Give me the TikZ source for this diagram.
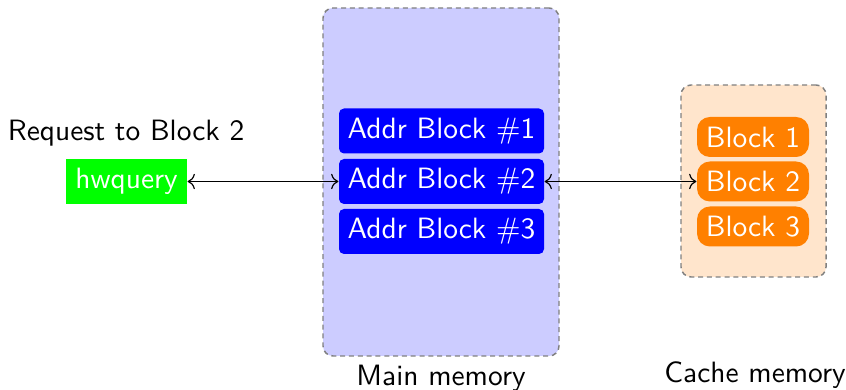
\documentclass[tikz,border=0pt]{standalone}
\usetikzlibrary{arrows.meta}
\begin{document}
\begin{tikzpicture}[x=0.34pt,y=-0.34pt,font=\sffamily,
  container/.style={draw=gray,dash pattern=on 1.7pt off 1.3pt,line width=0.5pt,rounded corners=3.4pt,inner sep=0pt},
  addrbox/.style={fill=blue,text=white,rounded corners=1.7pt,minimum width=205*0.34pt,minimum height=45*0.34pt,inner sep=0pt},
  cblock/.style={fill=orange,text=white,rounded corners=4.4pt,minimum width=112*0.34pt,minimum height=40*0.34pt,inner sep=0pt},
  link/.style={<->,line width=0.4pt}]
\useasboundingbox (0,0) rectangle (846,390);
\node[container,fill=blue!20,minimum width=236*0.34pt,minimum height=348*0.34pt] (main) at (441,182) {};
\node[container,fill=orange!20,minimum width=145*0.34pt,minimum height=192*0.34pt] (cache) at (753.5,181) {};
\node[addrbox] (a1) at (441.5,131) {Addr Block \#1};
\node[addrbox] (a2) at (441.5,181.5) {Addr Block \#2};
\node[addrbox] (a3) at (441.5,231.5) {Addr Block \#3};
\node[cblock] (b1) at (753,137) {Block 1};
\node[cblock] (b2) at (753,181.5) {Block 2};
\node[cblock] (b3) at (753,226.5) {Block 3};
\node[fill=green,text=white,minimum width=121*0.34pt,minimum height=45*0.34pt,inner sep=0pt] (hw) at (126.5,181.5) {hwquery};
\node (req) at (126,133) {Request to Block 2};
\node (mainlbl) at (441,378) {Main memory};
\node (cachelbl) at (755,375) {Cache memory};
\draw[link] (hw.east) -- (a2.west);
\draw[link] (a2.east) -- (b2.west);
\end{tikzpicture}
\end{document}
